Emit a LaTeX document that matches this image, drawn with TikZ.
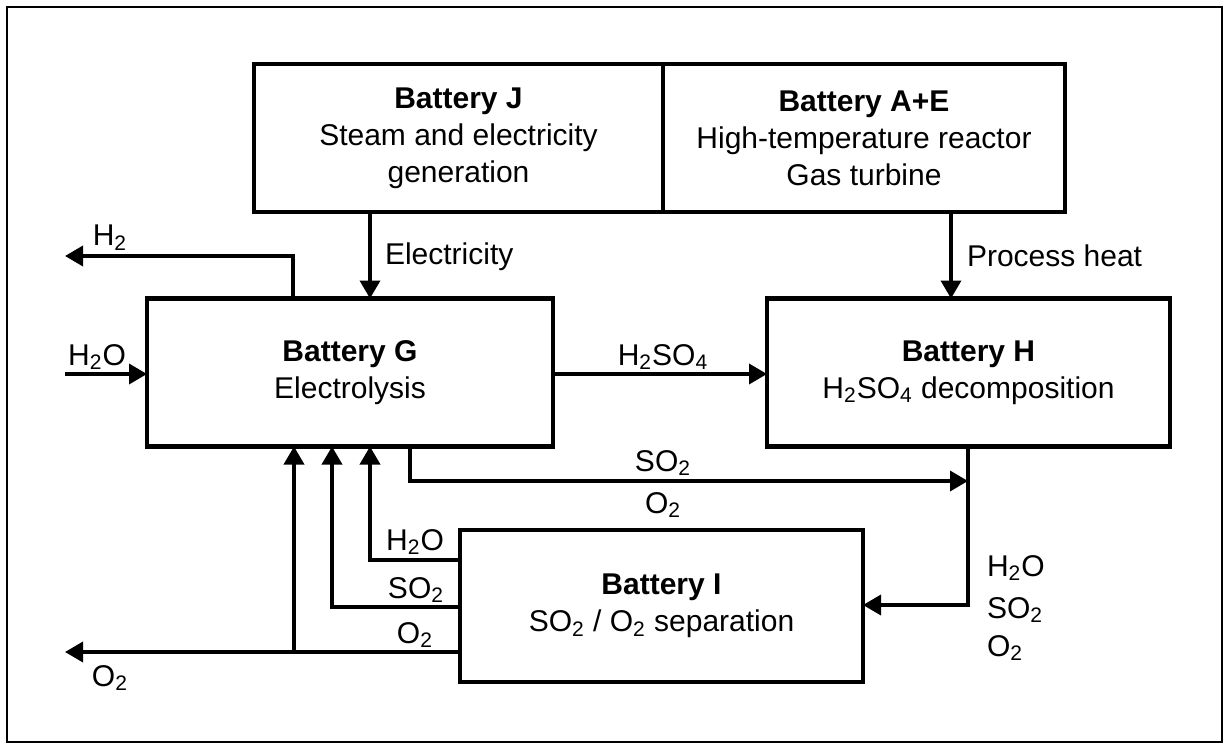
\documentclass[tikz,border=0pt]{standalone}
\usepackage{fontspec}
\setmainfont{Liberation Sans}
\usetikzlibrary{arrows.meta}
\begin{document}
\begin{tikzpicture}[x=0.5pt,y=-0.5pt,
  every node/.style={font=\fontsize{15pt}{18.5pt}\selectfont, inner sep=0pt, outer sep=0pt},
  box/.style={draw, line width=2.4pt, align=center, minimum height=74pt},
  arr/.style={line width=1.8pt, -{Triangle[length=9pt,width=10pt]}},
  frame/.style={line width=1pt}]
\useasboundingbox (0,0) rectangle (1226,744);
\draw[frame] (7,7) rectangle (1222,742);

% boxes
\node[box, minimum width=204.5pt] (J) at (458.5,138) {{\bfseries Battery J}\\Steam and electricity\\generation};
\node[box, minimum width=201pt] (AE) at (864,138) {{\bfseries Battery A+E}\\High-temperature reactor\\Gas turbine};
\node[box, minimum width=203pt] (G) at (350,372.5) {{\bfseries Battery G}\\Electrolysis};
\node[box, minimum width=201.5pt] (H) at (968.5,372.5) {{\bfseries Battery H}\\H\textsubscript{2}SO\textsubscript{4} decomposition};
\node[box, minimum width=201.5pt, minimum height=76pt] (I) at (661.5,606) {{\bfseries Battery I}\\SO\textsubscript{2} / O\textsubscript{2} separation};

% helper coordinates
\coordinate (ex) at (370,0);
\coordinate (px) at (951,0);
\coordinate (h2x) at (293,0);
\coordinate (h2end) at (65,256);
\coordinate (h2oin) at (65,374);
\coordinate (hs) at (0,374);
\coordinate (sx) at (410,0);
\coordinate (jn) at (968,481);
\coordinate (ia) at (0,605);
\coordinate (a1) at (370,560);
\coordinate (a2) at (332,607);
\coordinate (o2) at (294,652);
\coordinate (o2end) at (65,652);

% connectors
\draw[arr] (J.south -| ex) -- (G.north -| ex);
\draw[arr] (AE.south -| px) -- (H.north -| px);
\draw[arr] (G.north -| h2x) |- (h2end);
\draw[arr] (h2oin) -- (G.west |- h2oin);
\draw[arr] (G.east |- hs) -- (H.west |- hs);
\draw[arr] (G.south -| sx) |- (jn);
\draw[arr] (H.south -| jn) |- (I.east |- ia);
\draw[arr] (I.west |- a1) -| (G.south -| a1);
\draw[arr] (I.west |- a2) -| (G.south -| a2);
\draw[arr] (I.west |- o2) -- (o2end);
\draw[arr] (o2) -- (G.south -| o2);

% labels
\node[anchor=west] (lel) at (385,257) {Electricity};
\node[anchor=west] (lph) at (967,256) {Process heat};
\node (lh2) at (110,238) {H\textsubscript{2}};
\node (lh2o) at (97,357) {H\textsubscript{2}O};
\node (lhs) at (663,357) {H\textsubscript{2}SO\textsubscript{4}};
\node (lso2a) at (663,463) {SO\textsubscript{2}};
\node (lo2a) at (663,505) {O\textsubscript{2}};
\node[anchor=west] (rh2o) at (987,568) {H\textsubscript{2}O};
\node[anchor=west] (rso2) at (987,610) {SO\textsubscript{2}};
\node[anchor=west] (ro2) at (987,648) {O\textsubscript{2}};
\node (bh2o) at (415,542) {H\textsubscript{2}O};
\node (bso2) at (416,590) {SO\textsubscript{2}};
\node (bo2) at (415,635) {O\textsubscript{2}};
\node (lo2) at (110,678) {O\textsubscript{2}};
\end{tikzpicture}
\end{document}
